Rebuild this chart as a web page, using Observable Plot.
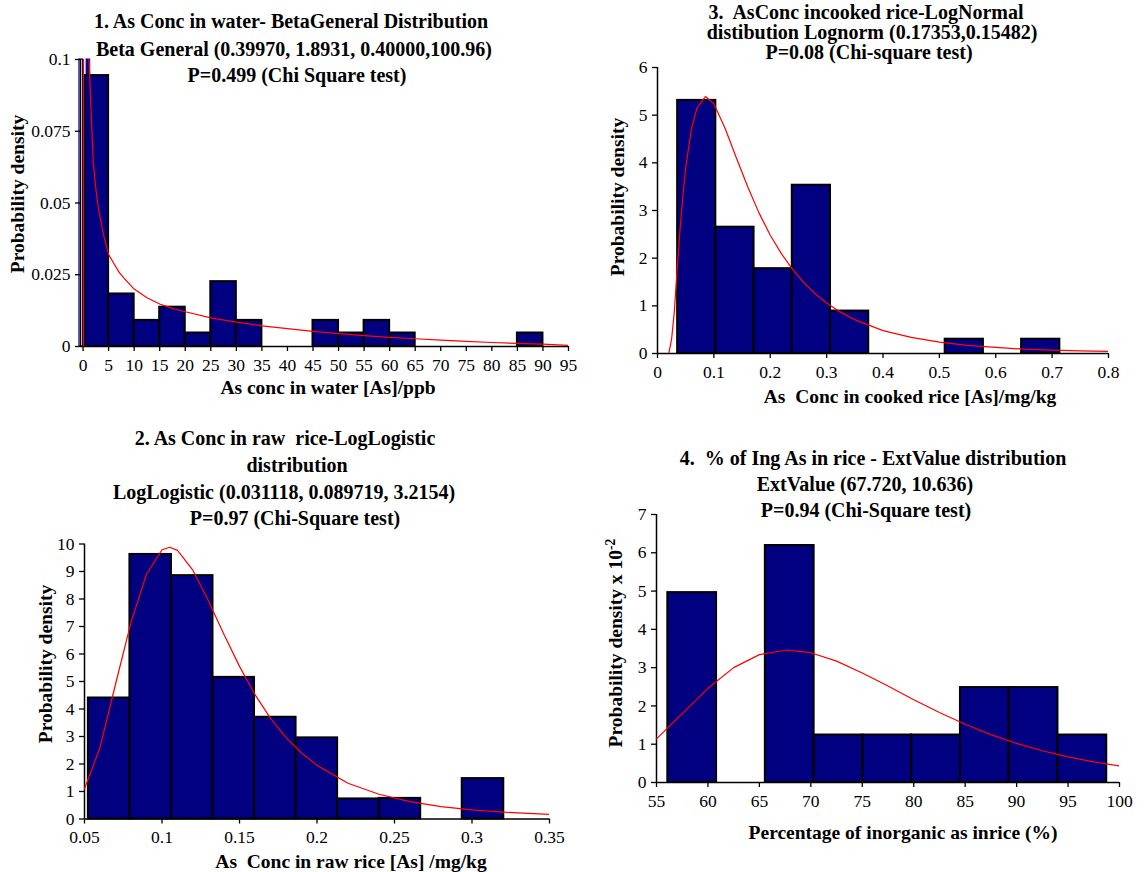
<!DOCTYPE html>
<html><head><meta charset="utf-8">
<script src="https://cdn.jsdelivr.net/npm/d3@7"></script>
<script src="https://cdn.jsdelivr.net/npm/@observablehq/plot@0.6"></script>
<style>
body{margin:0;background:#fff;}
#page{position:relative;width:1145px;height:872px;overflow:hidden;font-family:"Liberation Serif","Times New Roman",serif;color:#000;background:#fff;}
.t{position:absolute;transform:translate(-50%,-50%);white-space:pre;font-weight:bold;font-size:20px;line-height:1;}
.xt{position:absolute;transform:translate(-50%,-50%);white-space:pre;font-weight:bold;font-size:19.5px;line-height:1;}
.yt{position:absolute;transform:translate(-50%,-50%) rotate(-90deg);white-space:pre;font-weight:bold;font-size:19.5px;line-height:1;}
.panel{position:absolute;}
.panel svg{overflow:visible;}
</style></head><body><div id="page"></div>
<script>
// ---------- Panel 1: As conc in water (Beta General) ----------
const waterBinStart = [0.4, 5, 10, 15, 20, 25, 30, 35, 40, 45, 50, 55, 60, 65, 70, 75, 80, 85];
const waterBinEnd   = [5, 10, 15, 20, 25, 30, 35, 40, 45, 50, 55, 60, 65, 70, 75, 80, 85, 90];
const waterDensity  = [0.0944, 0.0183, 0.0091, 0.0137, 0.0047, 0.0226, 0.0091, 0, 0, 0.0091, 0.0047, 0.0091, 0.0047, 0, 0, 0, 0, 0.0047];
const waterCurveX = [0.1, 0.1, 0.9, 1.2, 1.5, 2, 2.5, 3, 4, 5, 6, 7, 8, 10, 12.5, 15, 17.5, 20, 25, 30, 35, 40, 45, 50, 55, 60, 65, 70, 75, 80, 85, 90, 95];
const waterCurveY = [0, 0.13, 0.105, 0.099, 0.085, 0.064, 0.055, 0.048, 0.039, 0.032, 0.029, 0.026, 0.0238, 0.020, 0.017, 0.0148, 0.0133, 0.0121, 0.0100, 0.0085, 0.0072, 0.0062, 0.0053, 0.0045, 0.0038, 0.0032, 0.0027, 0.0022, 0.0018, 0.0014, 0.0011, 0.0008, 0.0004];
const waterXTicks = [0, 5, 10, 15, 20, 25, 30, 35, 40, 45, 50, 55, 60, 65, 70, 75, 80, 85, 90, 95];
const waterYTicks = [0, 0.025, 0.05, 0.075, 0.1];

// ---------- Panel 2: As conc in raw rice (LogLogistic) ----------
const rawBinStart = [0.0525, 0.0793, 0.1061, 0.1329, 0.1597, 0.1865, 0.2133, 0.2401, 0.2669, 0.2937];
const rawBinEnd   = [0.0793, 0.1061, 0.1329, 0.1597, 0.1865, 0.2133, 0.2401, 0.2669, 0.2937, 0.3205];
const rawDensity  = [4.4, 9.62, 8.85, 5.15, 3.7, 2.95, 0.73, 0.75, 0, 1.47];
const rawCurveX = [0.05, 0.06, 0.07, 0.08, 0.09, 0.1, 0.105, 0.11, 0.12, 0.13, 0.14, 0.15, 0.16, 0.17, 0.18, 0.19, 0.2, 0.22, 0.24, 0.26, 0.28, 0.3, 0.32, 0.35];
const rawCurveY = [1.1, 2.6, 4.9, 7.15, 8.9, 9.79, 9.88, 9.77, 9.04, 7.93, 6.71, 5.55, 4.52, 3.66, 2.96, 2.4, 1.95, 1.3, 0.9, 0.63, 0.45, 0.33, 0.25, 0.165];
const rawXTicks = [0.05, 0.1, 0.15, 0.2, 0.25, 0.3, 0.35];
const rawYTicks = [0, 1, 2, 3, 4, 5, 6, 7, 8, 9, 10];

// ---------- Panel 3: As conc in cooked rice (LogNormal) ----------
const cookedBinStart = [0.0357, 0.1035, 0.1713, 0.2391, 0.3069, 0.3747, 0.4425, 0.5103, 0.5781, 0.6459];
const cookedBinEnd   = [0.1035, 0.1713, 0.2391, 0.3069, 0.3747, 0.4425, 0.5103, 0.5781, 0.6459, 0.7137];
const cookedDensity  = [5.31, 2.65, 1.78, 3.53, 0.89, 0, 0, 0.30, 0, 0.30];
const cookedCurveX = [0, 0.02, 0.025, 0.03, 0.035, 0.04, 0.045, 0.05, 0.06, 0.07, 0.085, 0.1, 0.12, 0.14, 0.16, 0.18, 0.2, 0.22, 0.24, 0.26, 0.28, 0.3, 0.32, 0.35, 0.4, 0.45, 0.5, 0.55, 0.6, 0.65, 0.7, 0.75, 0.8];
const cookedCurveY = [0, 0, 0.3, 0.9, 1.8, 2.6, 3.3, 3.9, 4.7, 5.15, 5.39, 5.24, 4.72, 4.1, 3.5, 2.95, 2.48, 2.09, 1.76, 1.48, 1.25, 1.06, 0.9, 0.71, 0.48, 0.34, 0.24, 0.17, 0.13, 0.09, 0.07, 0.055, 0.045];
const cookedXTicks = [0, 0.1, 0.2, 0.3, 0.4, 0.5, 0.6, 0.7, 0.8];
const cookedYTicks = [0, 1, 2, 3, 4, 5, 6];

// ---------- Panel 4: % inorganic As in rice (ExtValue) ----------
const inorgBinStart = [56.1, 60.84, 65.58, 70.32, 75.06, 79.8, 84.54, 89.28, 94.02];
const inorgBinEnd   = [60.84, 65.58, 70.32, 75.06, 79.8, 84.54, 89.28, 94.02, 98.76];
const inorgDensity  = [4.96, 0, 6.19, 1.24, 1.24, 1.24, 2.48, 2.48, 1.24];
const inorgCurveX = [55, 57.5, 60, 62.5, 65, 67.7, 70, 72.5, 75, 77.5, 80, 82.5, 85, 87.5, 90, 92.5, 95, 97.5, 100];
const inorgCurveY = [1.14, 1.8, 2.46, 3.0, 3.34, 3.46, 3.39, 3.17, 2.86, 2.52, 2.16, 1.83, 1.52, 1.25, 1.02, 0.83, 0.67, 0.54, 0.43];
const inorgXTicks = [55, 60, 65, 70, 75, 80, 85, 90, 95, 100];
const inorgYTicks = [0, 1, 2, 3, 4, 5, 6, 7];

const page = document.getElementById("page");
const NAVY = "#000080";

function makePanel(cfg) {
  const bars = cfg.x1.map((a, i) => ({x1: a, x2: cfg.x2[i], y: cfg.h[i]}));
  const curve = cfg.cx.map((x, i) => ({x, y: cfg.cy[i]}));
  const marks = [];
  if (cfg.extra) marks.push(...cfg.extra);
  marks.push(Plot.rectY(bars, {x1: "x1", x2: "x2", y: "y", fill: NAVY, stroke: "black", strokeWidth: 2}));
  marks.push(Plot.ruleY([cfg.yDomain[0]], {stroke: "black", strokeWidth: 1.5}));
  marks.push(Plot.ruleX([cfg.xDomain[0]], {stroke: "black", strokeWidth: 1.5}));
  marks.push(Plot.line(curve, {x: "x", y: "y", stroke: "red", strokeWidth: 1.2, clip: true}));
  marks.push(Plot.axisX({ticks: cfg.xTicks, tickFormat: d => String(d), tickSize: 5, tickPadding: 7, fontSize: 17.5, label: null, strokeWidth: 1.3}));
  marks.push(Plot.axisY({ticks: cfg.yTicks, tickFormat: d => String(d), tickSize: 5, tickPadding: 5, fontSize: 17.5, label: null, strokeWidth: 1.3}));
  const svg = Plot.plot({
    width: cfg.width, height: cfg.height,
    marginLeft: cfg.mL, marginRight: cfg.mR, marginTop: cfg.mT, marginBottom: cfg.mB,
    x: {domain: cfg.xDomain}, y: {domain: cfg.yDomain},
    style: {fontFamily: '"Liberation Serif", "Times New Roman", serif', fontSize: "17.5px", color: "black", background: "transparent", overflow: "visible"},
    marks
  });
  const div = document.createElement("div");
  div.className = "panel";
  div.style.left = cfg.left + "px";
  div.style.top = cfg.top + "px";
  div.appendChild(svg);
  page.appendChild(div);
}

function label(cls, text, cx, cy, html) {
  const d = document.createElement("div");
  d.className = cls;
  if (html) d.innerHTML = text; else d.textContent = text;
  d.style.left = cx + "px";
  d.style.top = cy + "px";
  page.appendChild(d);
}

// Panel 1
makePanel({
  left: 0, top: 0, width: 600, height: 420, mL: 80, mR: 32, mT: 59, mB: 74,
  xDomain: [-0.5, 95], yDomain: [0, 0.1],
  x1: waterBinStart, x2: waterBinEnd, h: waterDensity,
  cx: waterCurveX, cy: waterCurveY,
  xTicks: waterXTicks, yTicks: waterYTicks,
  extra: [
    Plot.rectY([{a: -0.7, b: 0, v: 0.1}], {x1: "a", x2: "b", y: "v", fill: "white", stroke: NAVY, strokeWidth: 1.2}),
    Plot.rectY([{a: 0.7, b: 1.4, v: 0.1}], {x1: "a", x2: "b", y: "v", fill: NAVY, stroke: NAVY, strokeWidth: 1})
  ]
});
// Panel 3
makePanel({
  left: 600, top: 0, width: 545, height: 420, mL: 57, mR: 37, mT: 67, mB: 67,
  xDomain: [0, 0.8], yDomain: [0, 6],
  x1: cookedBinStart, x2: cookedBinEnd, h: cookedDensity,
  cx: cookedCurveX, cy: cookedCurveY,
  xTicks: cookedXTicks, yTicks: cookedYTicks
});
// Panel 2
makePanel({
  left: 0, top: 420, width: 600, height: 452, mL: 84, mR: 51, mT: 123.5, mB: 53.5,
  xDomain: [0.05, 0.35], yDomain: [0, 10],
  x1: rawBinStart, x2: rawBinEnd, h: rawDensity,
  cx: rawCurveX, cy: rawCurveY,
  xTicks: rawXTicks, yTicks: rawYTicks
});
// Panel 4
makePanel({
  left: 600, top: 420, width: 545, height: 452, mL: 56, mR: 26, mT: 94, mB: 90,
  xDomain: [55, 100], yDomain: [0, 7],
  x1: inorgBinStart, x2: inorgBinEnd, h: inorgDensity,
  cx: inorgCurveX, cy: inorgCurveY,
  xTicks: inorgXTicks, yTicks: inorgYTicks
});

// Titles
label("t", "1. As Conc in water- BetaGeneral Distribution", 291, 21);
label("t", "Beta General (0.39970, 1.8931, 0.40000,100.96)", 294, 49);
label("t", "P=0.499 (Chi Square test)", 297, 75);

label("t", "3.  AsConc incooked rice-LogNormal", 866, 12);
label("t", "distibution Lognorm (0.17353,0.15482)", 872, 32);
label("t", "P=0.08 (Chi-square test)", 869, 52);

label("t", "2. As Conc in raw  rice-LogLogistic", 285, 438);
label("t", "distribution", 297, 465);
label("t", "LogLogistic (0.031118, 0.089719, 3.2154)", 284, 492);
label("t", "P=0.97 (Chi-Square test)", 295, 518);

label("t", "4.  % of Ing As in rice - ExtValue distribution", 873, 458);
label("t", "ExtValue (67.720, 10.636)", 865, 484);
label("t", "P=0.94 (Chi-Square test)", 866, 510);

// Axis titles
label("xt", "As conc in water [As]/ppb", 328, 388);
label("yt", "Probability density", 18, 194);
label("xt", "As  Conc in cooked rice [As]/mg/kg", 910, 397);
label("yt", "Probability density", 618, 197);
label("xt", "As  Conc in raw rice [As] /mg/kg", 351, 862);
label("yt", "Probability density", 46, 664);
label("xt", "Percentage of inorganic as inrice (%)", 903, 833);
label("yt", "Probability density x 10<sup style=\"font-size:0.7em;line-height:0\">-2</sup>", 616, 643, true);
</script>
</body></html>
